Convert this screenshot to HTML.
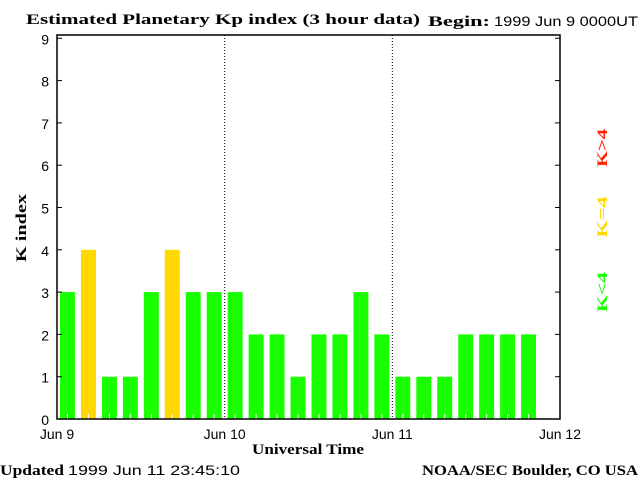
<!DOCTYPE html>
<html><head><meta charset="utf-8"><style>
body{margin:0;background:#fff;width:640px;height:480px;overflow:hidden}
svg{display:block}
.s{font-family:"Liberation Sans",sans-serif;font-size:14px}
.b{font-family:"Liberation Serif",serif;font-weight:bold;font-size:15px}
</style></head><body>
<svg id="c" width="640" height="480">
<text class="b" x="26" y="24" font-size="17" textLength="394" lengthAdjust="spacingAndGlyphs">Estimated Planetary Kp index (3 hour data)</text>
<text class="b" x="428" y="26" textLength="62" lengthAdjust="spacingAndGlyphs">Begin:</text>
<text class="s" x="494" y="26" font-size="13" textLength="144" lengthAdjust="spacingAndGlyphs">1999 Jun 9 0000UT</text>
<text class="b" x="0" y="0" transform="translate(26,228) rotate(-90)" text-anchor="middle" textLength="68" lengthAdjust="spacingAndGlyphs">K index</text>
<text class="b" x="252" y="454" font-size="14" textLength="112" lengthAdjust="spacingAndGlyphs">Universal Time</text>
<text class="b" x="0" y="475" textLength="64" lengthAdjust="spacingAndGlyphs">Updated</text>
<text class="s" x="68" y="475" textLength="172" lengthAdjust="spacingAndGlyphs">1999 Jun 11 23:45:10</text>
<text class="b" x="422" y="475" textLength="216" lengthAdjust="spacingAndGlyphs">NOAA/SEC Boulder, CO USA</text>
<g id="plot"></g>
<text class="b" font-size="20" fill="#1aff00" transform="translate(607,292) rotate(-90)" text-anchor="middle" textLength="40" lengthAdjust="spacingAndGlyphs">K&lt;4</text>
<text class="b" font-size="20" fill="#ffd800" transform="translate(607,217) rotate(-90)" text-anchor="middle" textLength="41" lengthAdjust="spacingAndGlyphs">K=4</text>
<text class="b" font-size="20" fill="#ff2000" transform="translate(607,148) rotate(-90)" text-anchor="middle" textLength="38" lengthAdjust="spacingAndGlyphs">K&gt;4</text>
</svg>
<script>
const kpValues=[3,4,1,1,3,4,3,3,3,2,2,1,2,2,3,2,1,1,1,2,2,2,2];
const yTicks=[0,1,2,3,4,5,6,7,8,9];
const dayLabels=["Jun 9","Jun 10","Jun 11","Jun 12"];
const NS="http://www.w3.org/2000/svg";
const L=57,R=560,B=419,T=35,unit=42.3;
const slot=(R-L)/24;
const y=v=>B-v*unit;
const x=i=>L+i*slot;
const g=document.getElementById('plot');
function mk(t,a){const e=document.createElementNS(NS,t);for(const k in a)e.setAttribute(k,a[k]);g.appendChild(e);return e;}
kpValues.forEach((v,i)=>{
  const r=mk('rect',{x:x(i)+3,y:y(v),width:slot-6,height:B-y(v),fill:v>4?'#ff2000':(v==4?'#ffd800':'#1aff00')});
  
  
  const m=mk('line',{x1:x(i)+slot/2,x2:x(i)+slot/2,y1:B,y2:B-5,stroke:'#fff'});
  
  
});
[1,2].forEach(d=>{const l=mk('line',{x1:L+d*8*slot,x2:L+d*8*slot,y1:T,y2:B,stroke:'#000','stroke-dasharray':'1,2'});
  
  });
const f=mk('rect',{x:L,y:T,width:R-L,height:B-T,fill:'none',stroke:'#000','stroke-width':1.5});


yTicks.forEach(v=>{
  const a=mk('line',{x1:L,x2:L+5,y1:y(v),y2:y(v),stroke:'#000'});
  
  
  const b=mk('line',{x1:R-5,x2:R,y1:y(v),y2:y(v),stroke:'#000'});
  
  
  const t=mk('text',{x:L-8,y:y(v)+6,'text-anchor':'end',class:'s',"font-size":"16"});
  t.textContent=v;
  
  
});
dayLabels.forEach((s,d)=>{
  const t=mk('text',{x:L+d*8*slot,y:439,'text-anchor':'middle',class:'s'});
  t.textContent=s;
  
  
});
</script>
</body></html>
